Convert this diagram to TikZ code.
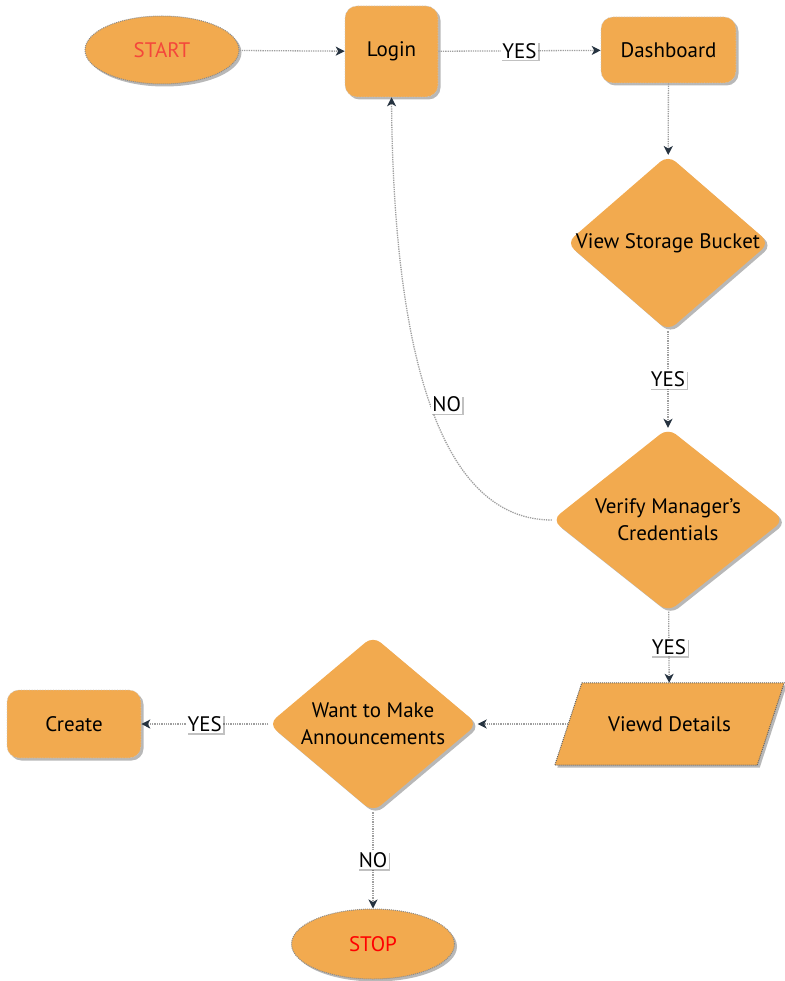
\documentclass[tikz,border=0pt]{standalone}
\usepackage{fontspec}
\setmainfont{PT Sans}
\usetikzlibrary{shapes.geometric,shadows,arrows.meta,backgrounds}

\definecolor{boxfill}{HTML}{F2AA4F}
\definecolor{tipdark}{HTML}{263340}
\definecolor{startred}{HTML}{F4473B}

\tikzset{
  txt/.style={font=\fontsize{21}{27}\selectfont},
  shade/.style={drop shadow={shadow xshift=2.5pt,shadow yshift=-2.5pt,opacity=0.35,fill=black!80}},
  base/.style={txt, fill=boxfill, shade},
  terminal/.style={base, ellipse, draw=gray!90, densely dotted, line width=1pt, inner sep=0pt},
  process/.style={base, rectangle, rounded corners=12pt, draw=gray!45, densely dotted, line width=0.6pt, inner sep=0pt},
  decision/.style={base, diamond, rounded corners=10pt, inner sep=0pt, align=center},
  iotext/.style={txt, rectangle, inner sep=0pt},
  iobox/.style={fill=boxfill, shade, draw=black!60, densely dotted, line width=1pt},
  flow/.style={draw=gray!75, densely dotted, line width=1.3pt,
    -{Stealth[length=9pt,width=9pt,inset=2.5pt,color=tipdark]}},
  lbl/.style={txt, fill=white, inner sep=1.5pt, text=black,
    drop shadow={shadow xshift=1.5pt,shadow yshift=-1.5pt,opacity=0.3,fill=black!80}}
}

\begin{document}
\begin{tikzpicture}[x=1pt,y=-1pt]
\useasboundingbox (0,0) rectangle (784,981);

% terminals
\node[terminal, minimum width=154pt, minimum height=68pt, text=startred] (start) at (162,50) {START};
\node[terminal, minimum width=163pt, minimum height=70pt, text=red] (stop) at (373,944) {STOP};

% process boxes
\node[process, minimum width=93pt, minimum height=91pt] (login) at (391.5,51.5) {Login};
\node[process, minimum width=135pt, minimum height=66pt] (dash) at (668.5,50) {Dashboard};
\node[process, minimum width=134pt, minimum height=68pt] (create) at (74,724) {Create};

% decisions
\node[decision, aspect=1.15, minimum width=203pt, minimum height=176pt] (view) at (668,243) {\makebox[0pt]{View Storage Bucket}};
\node[decision, aspect=1.26, minimum width=232pt, minimum height=184pt] (verify) at (668,520) {Verify Manager’s\\Credentials};
\node[decision, aspect=1.19, minimum width=209pt, minimum height=176pt] (want) at (373,724) {Want to Make\\Announcements};

% data (parallelogram drawn behind its text node)
\node[iotext, minimum width=202pt, minimum height=82pt] (details) at (669.5,724) {Viewd Details};
\begin{scope}[on background layer]
  \path[iobox] ([xshift=13.5pt]details.north west) -- ([xshift=13.5pt]details.north east)
    -- ([xshift=-13.5pt]details.south east) -- ([xshift=-13.5pt]details.south west) -- cycle;
\end{scope}

% connectors
\draw[flow] (start) -- (login);
\draw[flow] (login) -- node[lbl]{YES} (dash);
\draw[flow] (dash) -- (view);
\draw[flow] (view) -- node[lbl]{YES} (verify);
\draw[flow] (verify) -- node[lbl]{YES} (details);
\draw[flow] (details) -- (want);
\draw[flow] (want) -- node[lbl]{YES} (create);
\draw[flow] (want) -- node[lbl]{NO} (stop);
\draw[flow] (verify.west) .. controls (420,520) and (393,290) .. (login.south)
  node[lbl, pos=0.45, anchor=west]{NO};
\end{tikzpicture}
\end{document}
